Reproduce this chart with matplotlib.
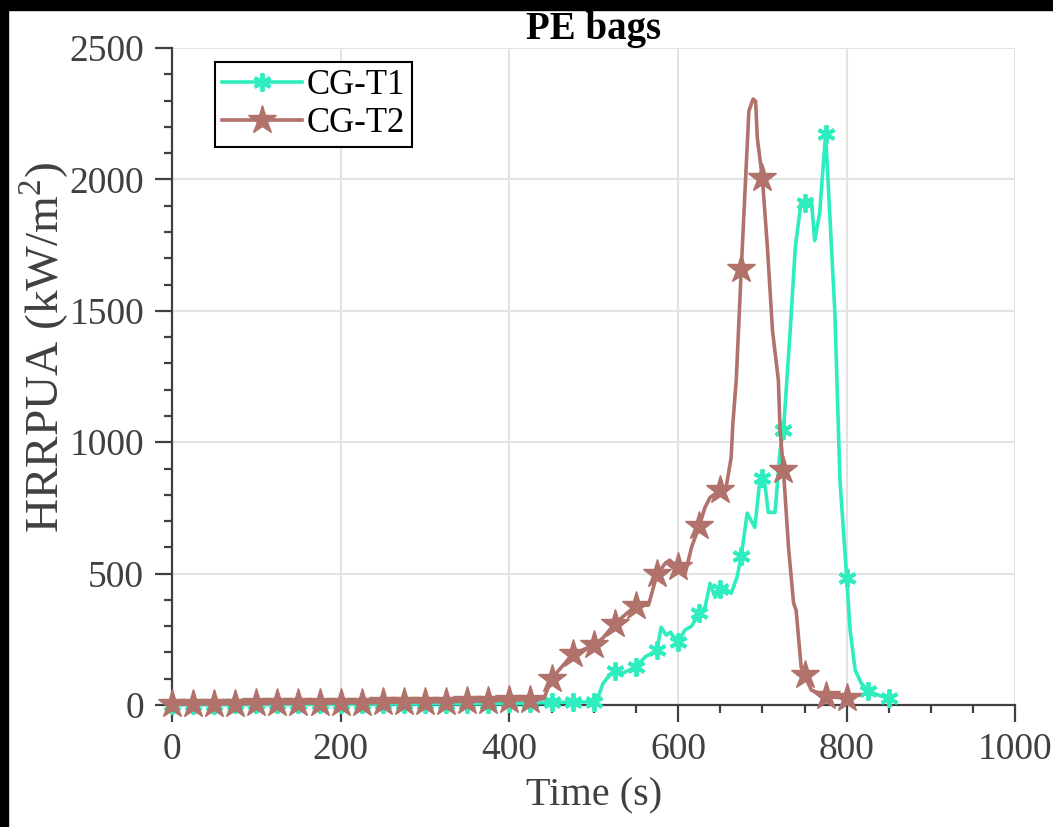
import numpy as np
import matplotlib
matplotlib.use("Agg")
import matplotlib.pyplot as plt
from matplotlib.patches import Rectangle


# CG-T1 (time in s, HRRPUA in kW/m2)
t1_time = [
    0, 25, 50, 75, 100, 125, 150, 175, 200, 225, 250, 275, 300, 325, 350, 375, 400, 425,
    450, 475, 500, 505, 511, 517, 525, 535, 550, 561, 575, 580, 586, 591, 600, 608,
    616, 625, 632, 638, 644, 650, 654, 663, 670, 675, 682, 691, 697, 700, 702, 707,
    715, 721, 725, 733, 739, 746, 750, 758, 762, 768, 771, 775, 786, 792, 800, 804,
    810, 817, 825, 837, 850
]
t1_hrr = [
    1, 1, 1, 2, 2, 2, 3, 3, 3, 3, 4, 4, 4, 5, 5, 5, 6, 7,
    10, 11, 12, 28, 82, 106, 131, 122, 145, 183, 209, 296, 266, 277, 238, 285,
    300, 350, 372, 463, 410, 443, 448, 425, 487, 567, 730, 676, 855, 862, 867, 733,
    733, 969, 1045, 1425, 1740, 1918, 1911, 1926, 1767, 1873, 2006, 2172, 1490, 855, 483, 285,
    133, 84, 55, 38, 25
]

# CG-T2
t2_time = [
    0, 25, 50, 75, 100, 125, 150, 175, 200, 225, 250, 275, 300, 325, 350, 375, 400, 425,
    441, 450, 475, 500, 511, 525, 550, 565, 575, 585, 590, 600, 608, 616, 625, 632,
    638, 650, 657, 663, 665, 669, 675, 680, 684, 689, 692, 694, 697, 700, 706, 712,
    719, 721, 725, 731, 737, 740, 746, 750, 758, 775, 782, 800, 815
]
t2_hrr = [
    3, 4, 5, 5, 6, 6, 7, 8, 8, 9, 10, 11, 12, 13, 14, 16, 18, 20,
    24, 100, 193, 228, 255, 310, 378, 380, 497, 540, 551, 525, 494, 600, 680, 752,
    790, 817, 828, 942, 1071, 1235, 1660, 1995, 2260, 2306, 2298, 2158, 2082, 2005, 1740, 1425,
    1235, 1045, 893, 600, 388, 361, 144, 114, 57, 35, 30, 27, 38
]

marker_times = np.arange(0, 851, 25)

t1_color = "#2EEDBE"
t2_color = "#B0726A"
axis_color = "#404040"

plt.rcParams["font.family"] = ["Liberation Serif", "DejaVu Serif"]
plt.rcParams["mathtext.fontset"] = "custom"
plt.rcParams["mathtext.rm"] = "Liberation Serif"

fig = plt.figure(figsize=(10.53, 8.27), dpi=100)
ax = fig.add_axes([0.1633, 0.1475, 0.801, 0.7944])

t1_time = np.array(t1_time)
t2_time = np.array(t2_time)

ax.plot(
    t1_time, t1_hrr,
    color=t1_color, linewidth=2.6,
    marker=(6, 2, 0), markersize=13, markeredgewidth=2.8,
    markevery=list(np.where(np.isin(t1_time, marker_times))[0]),
    label="CG-T1", clip_on=False, zorder=3
)

ax.plot(
    t2_time, t2_hrr,
    color=t2_color, linewidth=2.6,
    marker="*", markersize=21,
    markevery=list(np.where(np.isin(t2_time, marker_times))[0]),
    label="CG-T2", clip_on=False, zorder=4
)

ax.set_xlim(0, 1000)
ax.set_ylim(0, 2500)
ax.set_xticks(np.arange(0, 1001, 200))
ax.set_yticks(np.arange(0, 2501, 500))
ax.set_xticks(np.arange(0, 1001, 50), minor=True)
ax.set_yticks(np.arange(0, 2501, 100), minor=True)

ax.grid(True, which="major", color="#e3e3e3", linewidth=1.5)
ax.set_axisbelow(True)

for side in ["top", "right"]:
    ax.spines[side].set_visible(False)
for side in ["left", "bottom"]:
    ax.spines[side].set_color(axis_color)
    ax.spines[side].set_linewidth(1.6)

ax.tick_params(which="major", direction="out", length=12, width=1.6,
               color=axis_color, labelcolor=axis_color, labelsize=27, pad=8)
ax.tick_params(which="minor", direction="out", length=6, width=1.6,
               color=axis_color)

ax.set_xlabel("Time (s)", fontsize=29, color=axis_color, labelpad=7)
ax.set_ylabel("HRRPUA (kW/m$^2$)", fontsize=34, color=axis_color)
ax.yaxis.set_label_coords(-0.12, 0.545)
ax.set_title("PE bags", fontsize=28, fontweight="bold", pad=2)

leg = ax.legend(
    loc="upper left", bbox_to_anchor=(0.051, 0.979), borderaxespad=0,
    fontsize=25, handlelength=2.3, handletextpad=0.15, labelspacing=0.15,
    borderpad=0.2, fancybox=False, framealpha=1, edgecolor="black"
)
leg.get_frame().set_linewidth(1.5)
leg.set_zorder(5)

# dark border strips of the original screenshot
fig.patches.append(Rectangle((0, 1 - 10 / 827), 1, 10 / 827,
                             transform=fig.transFigure, color="black", zorder=-1))
fig.patches.append(Rectangle((0, 0), 8 / 1053, 1,
                             transform=fig.transFigure, color="black", zorder=-1))

fig.savefig("out.png", dpi=100)
